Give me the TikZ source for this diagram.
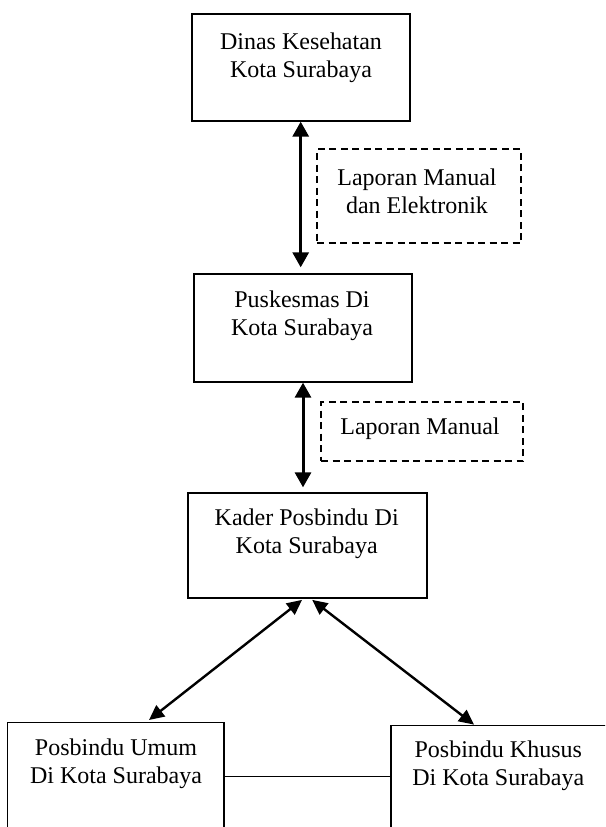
\documentclass[tikz,border=0pt]{standalone}
\usepackage{fontspec}
\setmainfont{Liberation Serif}
\usetikzlibrary{arrows.meta}
\begin{document}
\begin{tikzpicture}[x=1pt,y=-1pt,
  box/.style={draw=black,line width=1.3pt,inner sep=0pt,minimum width=218pt,minimum height=107pt},
  dbox/.style={draw=black,line width=1.8pt,dash pattern=on 7pt off 4.5pt},
  txt/.style={align=center,inner sep=0pt,anchor=north,font=\fontsize{24}{27.6}\selectfont},
  biarr/.style={line width=3pt,{Triangle[length=15pt,width=16pt]}-{Triangle[length=15pt,width=16pt]}},
  diarr/.style={line width=2.4pt,{Triangle[length=15pt,width=14pt]}-{Triangle[length=15pt,width=14pt]}}]
\useasboundingbox (0,0) rectangle (605,827);
\clip (0,0) rectangle (605,827);
% boxes
\node[box] (dinas) at (301,67.5) {};
\node[txt] (dinasT) at (301,33) {Dinas Kesehatan\\Kota Surabaya};
\node[box,minimum height=108pt] (pusk) at (303,328) {};
\node[txt] (puskT) at (302,291) {Puskesmas Di\\Kota Surabaya};
\node[box,minimum width=239pt,minimum height=105pt] (kader) at (307.5,545.5) {};
\node[txt] (kaderT) at (306.7,508.6) {Kader Posbindu Di\\Kota Surabaya};
\node[box,minimum width=216.7pt,minimum height=127.3pt] (umum) at (115.7,786.3) {};
\node[txt] (umumT) at (116,739) {Posbindu Umum\\Di Kota Surabaya};
\node[box,minimum width=249pt,minimum height=124.7pt] (khusus) at (515.5,787.6) {};
\node[txt] (khususT) at (498.3,741) {Posbindu Khusus\\Di Kota Surabaya};
% dashed label boxes
\node[dbox,minimum width=204pt,minimum height=94pt] (lap1) at (419,196) {};
\node[txt] (lap1T) at (417,168.6) {Laporan Manual\\dan Elektronik};
\node[dbox,minimum width=202pt,minimum height=59pt] (lap2) at (422,431.5) {};
\node[txt] (lap2T) at (420,418) {Laporan Manual};
% connectors
\draw[biarr,shorten >=6pt] ([xshift=-0.3pt]dinas.south) -- ([xshift=-2.3pt]pusk.north);
\draw[biarr,shorten >=5pt] (pusk.south) -- ([xshift=-4.5pt]kader.south |- kader.north);
\draw[diarr,shorten <=2pt] ([xshift=-3.9pt]kader.south) -- ([xshift=33.3pt,yshift=2pt]umum.north);
\draw[diarr,shorten <=2pt] ([xshift=3.1pt]kader.south) -- ([xshift=-41.5pt]khusus.north);
\draw[line width=1.3pt] (umum.east |- 0,776.7) -- (khusus.west |- 0,776.7);
\end{tikzpicture}
\end{document}
